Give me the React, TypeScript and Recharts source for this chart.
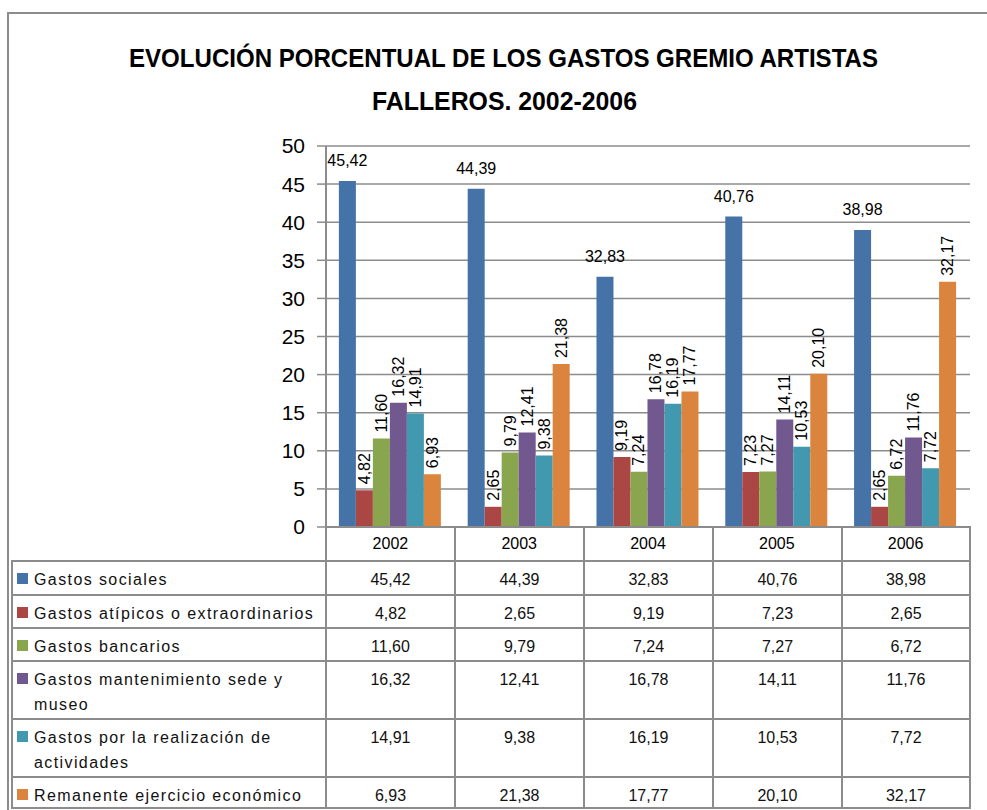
import { Bar, BarChart, CartesianGrid, LabelList, XAxis, YAxis } from "recharts";

const years = ["2002", "2003", "2004", "2005", "2006"];
const gastosSociales = [45.42, 44.39, 32.83, 40.76, 38.98];
const gastosAtipicos = [4.82, 2.65, 9.19, 7.23, 2.65];
const gastosBancarios = [11.6, 9.79, 7.24, 7.27, 6.72];
const gastosMantenimiento = [16.32, 12.41, 16.78, 14.11, 11.76];
const gastosActividades = [14.91, 9.38, 16.19, 10.53, 7.72];
const remanente = [6.93, 21.38, 17.77, 20.1, 32.17];
const yTicks = [0, 5, 10, 15, 20, 25, 30, 35, 40, 45, 50];

const titleLines = [
  "EVOLUCIÓN PORCENTUAL DE LOS GASTOS GREMIO ARTISTAS",
  "FALLEROS. 2002-2006",
];

const series = [
  { key: "s0", name: "Gastos sociales", values: gastosSociales, color: "#4572A7" },
  { key: "s1", name: "Gastos atípicos o extraordinarios", values: gastosAtipicos, color: "#AA4643" },
  { key: "s2", name: "Gastos bancarios", values: gastosBancarios, color: "#89A54E" },
  { key: "s3", name: "Gastos mantenimiento sede y museo", values: gastosMantenimiento, color: "#71588F" },
  { key: "s4", name: "Gastos por la realización de actividades", values: gastosActividades, color: "#4198AF" },
  { key: "s5", name: "Remanente ejercicio económico", values: remanente, color: "#DB843D" },
];

const chartData = years.map((year, i) => {
  const row: Record<string, string | number> = { year };
  series.forEach((s) => {
    row[s.key] = s.values[i];
  });
  return row;
});

const FONT = "'Liberation Sans', Arial, sans-serif";
const GRAY = "#8c8c8c";

// layout of the data table under the plot
const colEdges = [12, 326, 455, 584, 713, 842, 970];
const rowEdges = [527, 561, 595, 628, 661, 719, 777, 808];

const fmt = (v: unknown) => Number(v).toFixed(2).replace(".", ",");

const TopLabel = (props: any) => {
  const cx = Number(props.x) + Number(props.width) / 2;
  return (
    <text
      x={cx}
      y={Number(props.y) - 20}
      textAnchor="middle"
      dominantBaseline="central"
      fontSize={16}
      fontFamily={FONT}
      fill="#000"
    >
      {fmt(props.value)}
    </text>
  );
};

const SideLabel = (props: any) => {
  const cx = Number(props.x) + Number(props.width) / 2;
  const top = Number(props.y) - 6;
  return (
    <text
      transform={`translate(${cx},${top}) rotate(-90)`}
      textAnchor="start"
      dominantBaseline="central"
      fontSize={16}
      fontFamily={FONT}
      fill="#000"
    >
      {fmt(props.value)}
    </text>
  );
};

const cellBox = (c: number, r: number): React.CSSProperties => ({
  position: "absolute",
  left: colEdges[c] - 1,
  top: rowEdges[r] - 1,
  width: colEdges[c + 1] - colEdges[c] + 2,
  height: rowEdges[r + 1] - rowEdges[r] + 2,
  border: `2px solid ${GRAY}`,
  boxSizing: "border-box",
});

const DataTable = () => {
  const cells: React.ReactNode[] = [];
  for (let c = 1; c < colEdges.length - 1; c++) {
    cells.push(<div key={`h${c}`} style={cellBox(c, 0)} />);
  }
  series.forEach((s, i) => {
    const r = i + 1;
    cells.push(
      <div key={`l${i}`} style={cellBox(0, r)}>
        <div
          style={{
            position: "absolute",
            left: 4,
            top: 11,
            width: 11,
            height: 11,
            background: s.color,
          }}
        />
        <div
          style={{
            position: "absolute",
            left: 21,
            top: 5,
            width: 288,
            fontSize: 16,
            lineHeight: "25px",
            letterSpacing: 1.4,
            fontFamily: FONT,
            color: "#111",
          }}
        >
          {s.name}
        </div>
      </div>
    );
    s.values.forEach((v, j) => {
      cells.push(
        <div key={`v${i}-${j}`} style={cellBox(j + 1, r)}>
          <div
            style={{
              position: "absolute",
              left: 0,
              right: 0,
              top: 5,
              textAlign: "center",
              fontSize: 16,
              lineHeight: "25px",
              fontFamily: FONT,
              color: "#111",
            }}
          >
            {fmt(v)}
          </div>
        </div>
      );
    });
  });
  return <>{cells}</>;
};

export default function App() {
  return (
    <div
      style={{
        position: "absolute",
        left: 0,
        top: 0,
        width: 987,
        height: 810,
        overflow: "hidden",
        background: "#fff",
      }}
    >
      <div
        style={{
          position: "absolute",
          left: 7,
          top: 12,
          width: 1000,
          height: 900,
          border: `2px solid ${GRAY}`,
        }}
      />
      <DataTable />
      <svg
        width={987}
        height={130}
        style={{ position: "absolute", left: 0, top: 0 }}
      >
        <text
          x={129}
          y={67}
          fontSize={26}
          fontWeight="bold"
          fontFamily="'Liberation Sans Narrow', 'Liberation Sans', Arial, sans-serif"
          textLength={749}
          lengthAdjust="spacingAndGlyphs"
          fill="#000"
        >
          {titleLines[0]}
        </text>
        <text
          x={372}
          y={110}
          fontSize={26}
          fontWeight="bold"
          fontFamily="'Liberation Sans Narrow', 'Liberation Sans', Arial, sans-serif"
          textLength={265}
          lengthAdjust="spacingAndGlyphs"
          fill="#000"
        >
          {titleLines[1]}
        </text>
      </svg>
      <div style={{ position: "absolute", left: 0, top: 0 }}>
        <BarChart
          width={987}
          height={561}
          data={chartData}
          margin={{ top: 146, right: 17, bottom: 0, left: 0 }}
          barCategoryGap="10%"
          barGap={0}
        >
          <CartesianGrid
            vertical={false}
            stroke={GRAY}
            strokeWidth={1.5}
          />
          <XAxis
            dataKey="year"
            height={34}
            interval={0}
            tickLine={false}
            tickSize={6}
            tickMargin={5}
            axisLine={{ stroke: GRAY, strokeWidth: 2 }}
            tick={{ fontSize: 16, fontFamily: FONT, fill: "#000" }}
          />
          <YAxis
            width={326}
            domain={[0, 50]}
            ticks={yTicks}
            interval={0}
            tickSize={9}
            tickMargin={12}
            axisLine={{ stroke: GRAY, strokeWidth: 2 }}
            tickLine={{ stroke: GRAY, strokeWidth: 1.5 }}
            tick={{ fontSize: 21, fontFamily: FONT, fill: "#000" }}
          />
          {series.map((s, i) => (
            <Bar
              key={s.key}
              dataKey={s.key}
              name={s.name}
              fill={s.color}
              isAnimationActive={false}
            >
              <LabelList
                dataKey={s.key}
                content={i === 0 ? TopLabel : SideLabel}
              />
            </Bar>
          ))}
        </BarChart>
      </div>
    </div>
  );
}
